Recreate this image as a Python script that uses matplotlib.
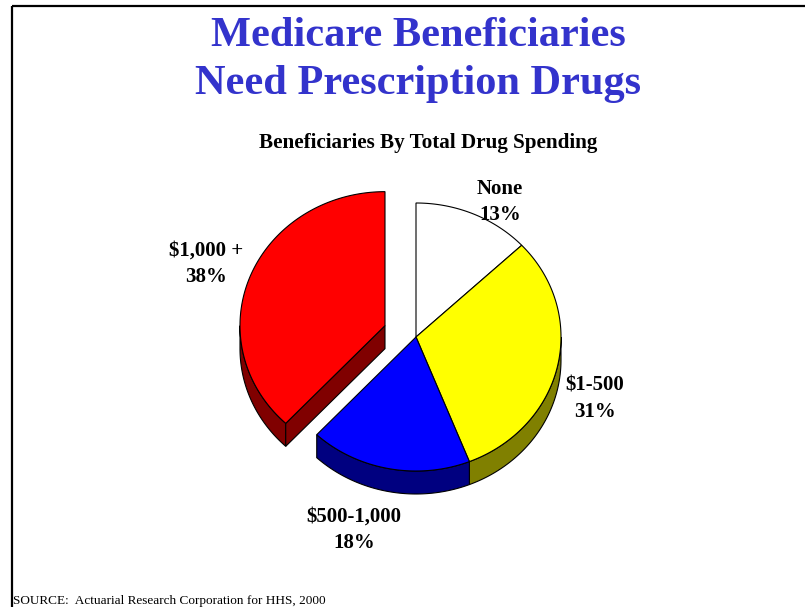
import numpy as np
import matplotlib
matplotlib.use('Agg')
import matplotlib.pyplot as plt
from matplotlib.patches import Polygon

# Share of Medicare beneficiaries by total drug spending (percent), clockwise from 12 o'clock
categories = ['None', r'\$1-500', r'\$500-1,000', r'\$1,000 +']
shares = [13, 31, 18, 38]
exploded = [False, False, False, True]

top_colors = ['#FFFFFF', '#FFFF00', '#0000FF', '#FF0000']
side_colors = ['#808080', '#808000', '#000080', '#800000']

title = 'Medicare Beneficiaries\nNeed Prescription Drugs'
subtitle = 'Beneficiaries By Total Drug Spending'
source = 'SOURCE:  Actuarial Research Corporation for HHS, 2000'

# Pie geometry in pixel units (tilted disc)
cx, cy = 416, 337
rx, ry, depth = 145, 134, 23
explode_dist = 0.23
label_xy = [(500, 202), (595, 399), (354, 530), (206, 264)]

fig = plt.figure(figsize=(8.05, 6.07), dpi=100)
ax = fig.add_axes([0, 0, 1, 1])
ax.set_xlim(0, 805)
ax.set_ylim(607, 0)
ax.axis('off')

serif = 'Liberation Serif'


def rim(t, x0, y0, dz=0.0):
    t = np.radians(t)
    return np.column_stack([x0 + rx * np.sin(t), y0 - ry * np.cos(t) + dz])


bounds = np.concatenate([[0], np.cumsum(shares)]) / np.sum(shares) * 360.0
centres = []
for i in range(len(shares)):
    a, b = bounds[i], bounds[i + 1]
    ox, oy = cx, cy
    if exploded[i]:
        m = np.radians((a + b) / 2)
        ox += explode_dist * rx * np.sin(m)
        oy -= explode_dist * ry * np.cos(m)
    centres.append((ox, oy))

# side walls first (front half of the rim plus open cut faces)
for i in range(len(shares)):
    a, b = bounds[i], bounds[i + 1]
    ox, oy = centres[i]
    lo, hi = max(a, 90), min(b, 270)
    if lo < hi:
        t = np.linspace(lo, hi, 80)
        pts = np.vstack([rim(t, ox, oy), rim(t[::-1], ox, oy, depth)])
        ax.add_patch(Polygon(pts, closed=True, fc=side_colors[i], ec='black', lw=0.8))
    if exploded[i]:
        for ang in (a, b):
            s = np.sin(np.radians(ang))
            if (ang == a and s < -1e-9) or (ang == b and s > 1e-9):
                p = rim([ang], ox, oy)[0]
                face = [(ox, oy), p, (p[0], p[1] + depth), (ox, oy + depth)]
                ax.add_patch(Polygon(face, closed=True, fc=side_colors[i], ec='black', lw=0.8))

# top faces
for i in range(len(shares)):
    a, b = bounds[i], bounds[i + 1]
    ox, oy = centres[i]
    t = np.linspace(a, b, 120)
    pts = np.vstack([[ox, oy], rim(t, ox, oy)])
    ax.add_patch(Polygon(pts, closed=True, fc=top_colors[i], ec='black', lw=0.8))

# slice labels
for name, val, (lx, ly) in zip(categories, shares, label_xy):
    ax.text(lx, ly, f'{name}\n{val}%', ha='center', va='center', family=serif,
            fontweight='bold', fontsize=15, linespacing=1.45)

ax.text(418, 60, title, ha='center', va='center', family=serif, fontweight='bold',
        fontsize=30.5, color='#3333CC', linespacing=1.35)
ax.text(428, 143, subtitle, ha='center', va='center', family=serif, fontweight='bold',
        fontsize=15.2)
ax.text(13, 601, source, ha='left', va='center', family=serif, fontsize=9.5)

# slide frame
ax.plot([12, 805], [6, 6], color='black', lw=1.6, solid_capstyle='butt')
ax.plot([12, 12], [6, 607], color='black', lw=1.6, solid_capstyle='butt')

fig.savefig('out.png', dpi=100)
